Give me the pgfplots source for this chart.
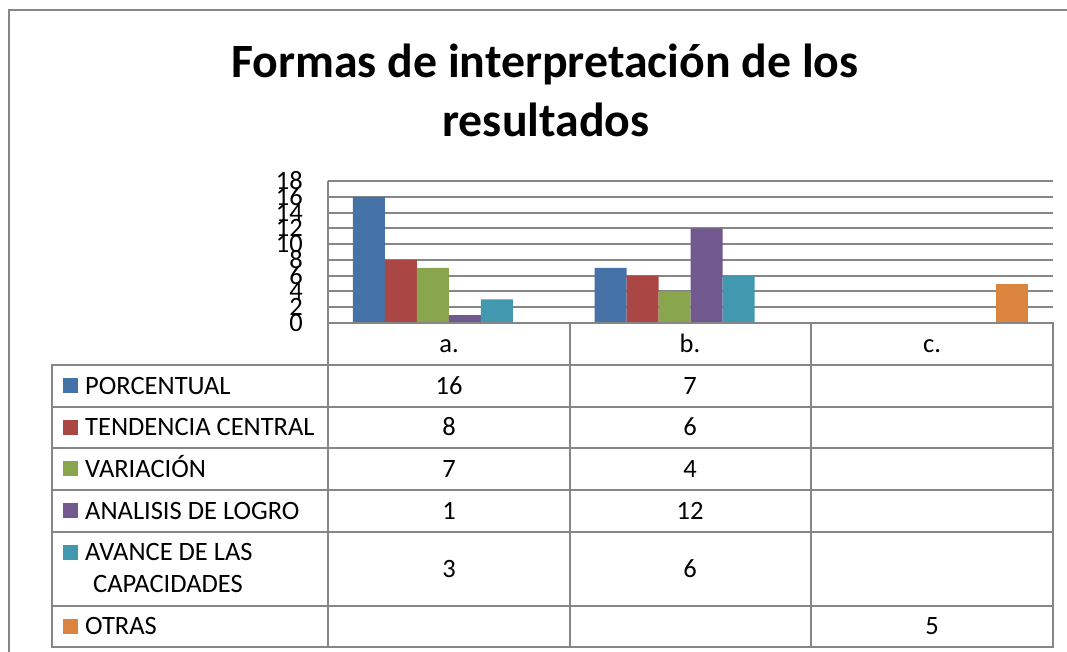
\documentclass[border=0pt]{standalone}
\usepackage{fontspec}
\setmainfont{Carlito}
\usepackage{pgfplots}
\pgfplotsset{compat=1.18}
\definecolor{c1}{HTML}{4572A7}
\definecolor{c2}{HTML}{AA4643}
\definecolor{c3}{HTML}{89A54E}
\definecolor{c4}{HTML}{71588F}
\definecolor{c5}{HTML}{4198AF}
\definecolor{c6}{HTML}{DB843D}
\definecolor{gridc}{HTML}{868686}
\newcommand\tf{\fontsize{26.5}{32}\selectfont}
\begin{document}
\begin{tikzpicture}
\useasboundingbox (0,0) rectangle (1067pt,652pt);
\begin{axis}[at={(328pt,329pt)}, anchor=south west,
  width=725pt, height=142pt, scale only axis,
  xmin=-0.5, xmax=2.5, ymin=0, ymax=18,
  ytick={0,2,...,18}, xtick=\empty,
  ymajorgrids, major grid style={draw=gridc, line width=2pt},
  axis line style={draw=none},
  major tick length=0pt,
  yticklabel style={font=\tf, inner sep=0pt, xshift=-25pt},
  /pgf/number format/assume math mode=true,
  ybar=0pt, bar width=32pt,
  clip=false]
\addplot[fill=c1,draw=none] coordinates {(0,16) (1,7)};
\addplot[fill=c2,draw=none] coordinates {(0,8) (1,6)};
\addplot[fill=c3,draw=none] coordinates {(0,7) (1,4)};
\addplot[fill=c4,draw=none] coordinates {(0,1) (1,12)};
\addplot[fill=c5,draw=none] coordinates {(0,3) (1,6)};
\addplot[fill=c6,draw=none] coordinates {(2,5)};
\end{axis}
\begin{scope}[x=1pt,y=-1pt,yshift=652pt]
  % outer chart border
  \draw[gridc, line width=2pt] (8.5,652) -- (8.5,10.5) -- (1067,10.5);
  % title
  \node[font=\bfseries\fontsize{47.8}{60}\selectfont, anchor=base, inner sep=0pt] at (545,78) {Formas de interpretación de los};
  \node[font=\bfseries\fontsize{47.8}{60}\selectfont, anchor=base, inner sep=0pt] at (546,137) {resultados};
  % table grid
  \begin{scope}[draw=gridc, line width=2pt]
    \draw (328,181) -- (328,647);
    \draw (327,323) -- (1054,323);
    \foreach \yy in {365,407,448,490,532,606,647} \draw (51,\yy) -- (1054,\yy);
    \foreach \xx in {570,811,1053} \draw (\xx,322) -- (\xx,648);
    \draw (52,364) -- (52,648);
  \end{scope}
  % header
  \node[font=\tf, anchor=base, inner sep=0pt] at (449,353) {a.};
  \node[font=\tf, anchor=base, inner sep=0pt] at (690,353) {b.};
  \node[font=\tf, anchor=base, inner sep=0pt] at (932,353) {c.};
  % row labels
  \fill[c1] (63,378) rectangle (78,393);
  \node[font=\tf, anchor=base west, inner sep=0pt] at (85,394.5) {PORCENTUAL};
  \fill[c2] (63,420) rectangle (78,435);
  \node[font=\tf, anchor=base west, inner sep=0pt] at (85,436) {TENDENCIA CENTRAL};
  \fill[c3] (63,461) rectangle (78,476);
  \node[font=\tf, anchor=base west, inner sep=0pt] at (85,477.5) {VARIACIÓN};
  \fill[c4] (63,503) rectangle (78,518);
  \node[font=\tf, anchor=base west, inner sep=0pt] at (85,519.5) {ANALISIS DE LOGRO};
  \fill[c5] (63,545) rectangle (78,560);
  \node[font=\tf, anchor=base west, inner sep=0pt] at (85,560.5) {AVANCE DE LAS};
  \node[font=\tf, anchor=base west, inner sep=0pt] at (93,593) {CAPACIDADES};
  \fill[c6] (63,619) rectangle (78,634);
  \node[font=\tf, anchor=base west, inner sep=0pt] at (85,635) {OTRAS};
  % values
  \foreach \v/\yy in {16/394.5,8/436,7/477.5,1/519.5,3/577.5}
    \node[font=\tf, anchor=base, inner sep=0pt] at (449,\yy) {\v};
  \foreach \v/\yy in {7/394.5,6/436,4/477.5,12/519.5,6/577.5}
    \node[font=\tf, anchor=base, inner sep=0pt] at (690,\yy) {\v};
  \node[font=\tf, anchor=base, inner sep=0pt] at (932,635) {5};
\end{scope}
\end{tikzpicture}
\end{document}
